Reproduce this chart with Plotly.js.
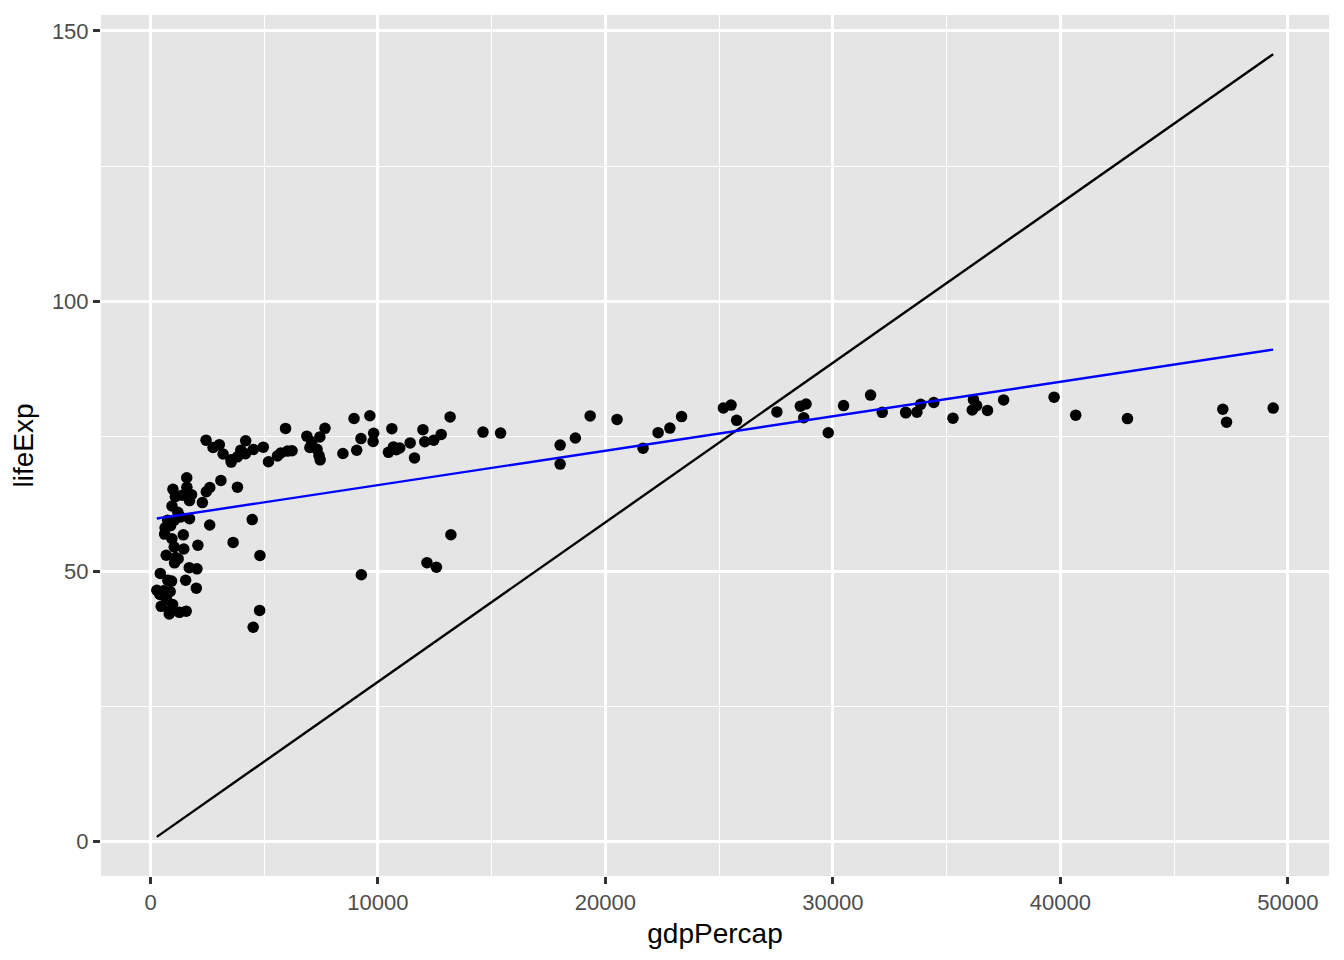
<!DOCTYPE html>
<html>
<head>
<meta charset="utf-8">
<script src="https://cdn.plot.ly/plotly-3.0.1.min.js"></script>
<style>html,body{margin:0;padding:0;background:#fff;}</style>
</head>
<body>
<div id="chart" style="width:1344px;height:960px;"></div>
<script>
// gapminder, 2007
const countries = ["Afghanistan","Albania","Algeria","Angola","Argentina","Australia","Austria","Bahrain","Bangladesh","Belgium","Benin","Bolivia","Bosnia and Herzegovina","Botswana","Brazil","Bulgaria","Burkina Faso","Burundi","Cambodia","Cameroon","Canada","Central African Republic","Chad","Chile","China","Colombia","Comoros","Congo, Dem. Rep.","Congo, Rep.","Costa Rica","Cote d'Ivoire","Croatia","Cuba","Czech Republic","Denmark","Djibouti","Dominican Republic","Ecuador","Egypt","El Salvador","Equatorial Guinea","Eritrea","Ethiopia","Finland","France","Gabon","Gambia","Germany","Ghana","Greece","Guatemala","Guinea","Guinea-Bissau","Haiti","Honduras","Hong Kong, China","Hungary","Iceland","India","Indonesia","Iran","Iraq","Ireland","Israel","Italy","Jamaica","Japan","Jordan","Kenya","Korea, Dem. Rep.","Korea, Rep.","Kuwait","Lebanon","Lesotho","Liberia","Libya","Madagascar","Malawi","Malaysia","Mali","Mauritania","Mauritius","Mexico","Mongolia","Montenegro","Morocco","Mozambique","Myanmar","Namibia","Nepal","Netherlands","New Zealand","Nicaragua","Niger","Nigeria","Norway","Oman","Pakistan","Panama","Paraguay","Peru","Philippines","Poland","Portugal","Puerto Rico","Reunion","Romania","Rwanda","Sao Tome and Principe","Saudi Arabia","Senegal","Serbia","Sierra Leone","Singapore","Slovak Republic","Slovenia","Somalia","South Africa","Spain","Sri Lanka","Sudan","Swaziland","Sweden","Switzerland","Syria","Taiwan","Tanzania","Thailand","Togo","Trinidad and Tobago","Tunisia","Turkey","Uganda","United Kingdom","United States","Uruguay","Venezuela","Vietnam","West Bank and Gaza","Yemen, Rep.","Zambia","Zimbabwe"];

const gdpPercap = [974.58,5937.03,6223.37,4797.23,12779.38,34435.37,36126.49,29796.05,1391.25,33692.61,1441.28,3822.14,7446.30,12569.85,9065.80,10680.79,1217.03,430.07,1713.78,2042.10,36319.24,706.02,1704.06,13171.64,4959.11,7006.58,986.15,277.55,3632.56,9645.06,1544.75,14619.22,8948.10,22833.31,35278.42,2082.48,6025.37,6873.26,5581.18,5728.35,12154.09,641.37,690.81,33207.08,30470.02,13206.48,752.75,32170.37,1327.61,27538.41,5186.05,942.65,579.23,1201.64,3548.33,39724.98,18008.94,36180.79,2452.21,3540.65,11605.71,4471.06,40676.00,25523.28,28569.72,7320.88,31656.07,4519.46,1463.25,1593.07,23348.14,47306.99,10461.06,1569.33,414.51,12057.50,1044.77,759.35,12451.66,1042.58,1803.15,10956.99,11977.57,3095.77,9253.90,3820.18,823.69,944.00,4811.06,1091.36,36797.93,25185.01,2749.32,619.68,2013.98,49357.19,22316.19,2605.95,9809.19,4172.84,7408.91,3190.48,15389.92,20509.65,19328.71,7670.12,10808.48,863.09,1598.44,21654.83,1712.47,9786.53,862.54,47143.18,18678.31,25768.26,926.14,9269.66,28821.06,3970.10,2602.39,4513.48,33859.75,37506.42,4184.55,28718.28,1107.48,7458.40,882.97,18008.51,7092.92,8458.28,1056.38,33203.26,42951.65,10611.46,11415.81,2441.58,3025.35,2280.77,1271.21,469.71];

const lifeExp = [43.828,76.423,72.301,42.731,75.320,81.235,79.829,75.635,64.062,79.441,56.728,65.554,74.852,50.728,72.390,73.005,52.295,49.580,59.723,50.430,80.653,44.741,50.651,78.553,72.961,72.889,65.152,46.462,55.322,78.782,48.328,75.748,78.273,76.486,78.332,54.791,72.235,74.994,71.338,71.878,51.579,58.040,52.947,79.313,80.657,56.735,59.448,79.406,60.022,79.483,70.259,56.007,46.388,60.916,70.198,82.208,73.338,81.757,64.698,70.650,70.964,59.545,78.885,80.745,80.546,72.567,82.603,72.535,54.110,67.297,78.623,77.588,71.993,42.592,45.678,73.952,59.443,48.303,74.241,54.467,64.164,72.801,76.195,66.803,74.543,71.164,42.082,62.069,52.906,63.785,79.762,80.204,72.899,56.867,46.859,80.196,75.640,65.483,75.537,71.752,71.421,71.688,75.563,78.098,78.746,76.442,72.476,46.242,65.528,72.777,63.062,74.002,42.568,79.972,74.663,77.926,48.159,49.339,80.941,72.396,58.556,39.613,80.884,81.701,74.143,78.400,52.517,70.616,58.420,69.819,73.923,71.777,51.542,79.425,78.242,76.384,73.747,74.249,73.422,62.698,42.384,43.487];

// black reference line (endpoints)
const blackLineX = [277.55, 49357.19];
const blackLineY = [0.815, 145.71];

// blue linear fit lifeExp ~ gdpPercap (endpoints)
const blueLineX = [277.55, 49357.19];
const blueLineY = [59.74, 91.01];

const xTicks = [0, 10000, 20000, 30000, 40000, 50000];
const yTicks = [0, 50, 100, 150];

const traces = [
  {x: gdpPercap, y: lifeExp, text: countries, type: 'scatter', mode: 'markers',
   marker: {color: '#000000', size: 11.5}, hoverinfo: 'text+x+y'},
  {x: blackLineX, y: blackLineY, type: 'scatter', mode: 'lines',
   line: {color: '#000000', width: 2.4}, hoverinfo: 'skip'},
  {x: blueLineX, y: blueLineY, type: 'scatter', mode: 'lines',
   line: {color: '#0000FF', width: 2.4}, hoverinfo: 'skip'}
];

const fontFam = 'Liberation Sans, Arial, Helvetica, sans-serif';

const layout = {
  width: 1344, height: 960,
  margin: {l: 101, r: 15, t: 15, b: 84},
  paper_bgcolor: '#FFFFFF',
  plot_bgcolor: '#E5E5E5',
  showlegend: false,
  font: {family: fontFam, color: '#4D4D4D', size: 22},
  xaxis: {
    range: [-2176.4, 51811.2],
    tickvals: xTicks, ticktext: xTicks.map(String),
    showgrid: true, gridcolor: '#FFFFFF', gridwidth: 2.6,
    minor: {tickvals: [5000, 15000, 25000, 35000, 45000], showgrid: true, gridcolor: '#FFFFFF', gridwidth: 1.3, ticks: ''},
    zeroline: false, showline: false,
    ticks: 'outside', ticklen: 7, tickwidth: 2.5, tickcolor: '#333333',
    tickfont: {family: fontFam, size: 22, color: '#4D4D4D'},
    title: {text: 'gdpPercap', font: {family: fontFam, size: 28, color: '#000000'}, standoff: 8}
  },
  yaxis: {
    range: [-6.43, 152.96],
    tickvals: yTicks, ticktext: yTicks.map(String),
    showgrid: true, gridcolor: '#FFFFFF', gridwidth: 2.6,
    minor: {tickvals: [25, 75, 125], showgrid: true, gridcolor: '#FFFFFF', gridwidth: 1.3, ticks: ''},
    zeroline: false, showline: false,
    ticks: 'outside', ticklen: 7, tickwidth: 2.5, tickcolor: '#333333',
    tickfont: {family: fontFam, size: 22, color: '#4D4D4D'},
    title: {text: 'lifeExp', font: {family: fontFam, size: 28, color: '#000000'}, standoff: 10}
  }
};

Plotly.newPlot('chart', traces, layout, {displayModeBar: false, staticPlot: false});
</script>
</body>
</html>
